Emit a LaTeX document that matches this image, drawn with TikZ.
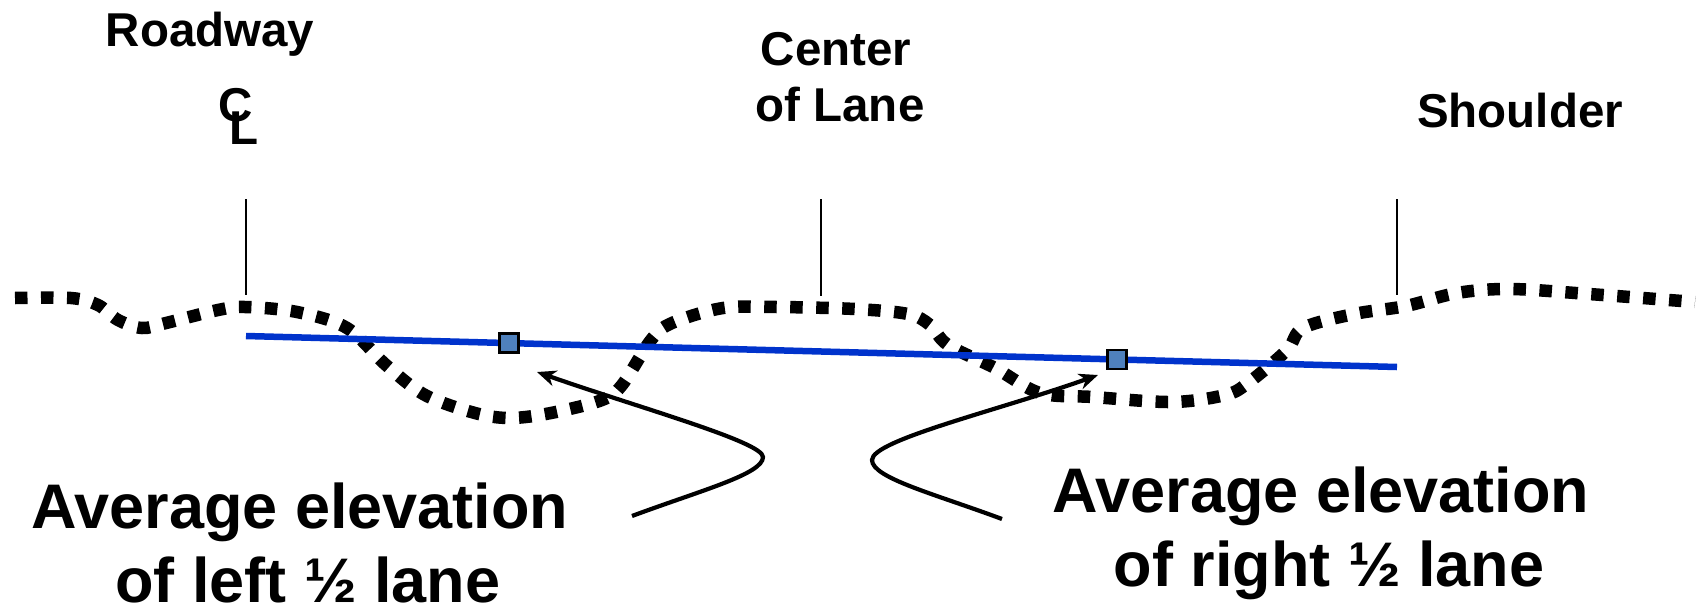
\documentclass[tikz,border=0pt]{standalone}
\usepackage{fontspec}
\setmainfont{Liberation Sans}
\usetikzlibrary{arrows.meta}
\definecolor{lineblue}{HTML}{0033CC}
\definecolor{markblue}{HTML}{4F81BD}
\newcommand{\smallfnt}{\fontsize{47.5}{56}\selectfont\bfseries}
\newcommand{\bigfnt}{\fontsize{63}{74}\selectfont\bfseries}
\begin{document}
\begin{tikzpicture}[x=1pt,y=-1pt,
  lbl/.style={font=\smallfnt, inner sep=0pt, anchor=base},
  big/.style={font=\bigfnt, inner sep=0pt, anchor=base},
  tickline/.style={line width=2.4pt},
  ground/.style={line width=12.5pt, dash pattern=on 12.5pt off 13.5pt},
  avgline/.style={draw=lineblue, line width=6.5pt},
  avgmark/.style={draw=black, line width=2.2pt, fill=markblue, minimum size=19pt, inner sep=0pt},
  pointer/.style={line width=4.2pt, -{Stealth[length=19pt,width=16pt,inset=6pt]}}
]
\useasboundingbox (0,0) rectangle (1701,611);

% labels
\node[lbl] (roadway) at (210,46) {Roadway};
\node[lbl, anchor=base west] (clC) at (218,121) {C};
\node[lbl, anchor=base west] (clL) at (229,144) {L};
\node[lbl] (center1) at (836,65) {Center};
\node[lbl] (center2) at (840,121) {of Lane};
\node[lbl] (shoulder) at (1520,127) {Shoulder};

% ticks
\coordinate (t1a) at (246,199); \coordinate (t1b) at (246,295);
\coordinate (t2a) at (821,199); \coordinate (t2b) at (821,296);
\coordinate (t3a) at (1397,199); \coordinate (t3b) at (1397,295);
\draw[tickline] (t1a) -- (t1b);
\draw[tickline] (t2a) -- (t2b);
\draw[tickline] (t3a) -- (t3b);

% road surface
\draw[ground] plot[smooth, tension=0.55] coordinates {
(15,298) (71,298) (98,305) (118,320) (142,328) (166,323) (218,310) (245,307)
(297,312) (347,328) (386,365) (425,395) (475,413) (510,418) (551,413) (602,400)
(622,385) (651,340) (672,323) (723,308) (777,307) (855,309) (908,314) (930,325)
(948,345) (995,368) (1040,393) (1093,397) (1172,402) (1225,395) (1248,383)
(1287,350) (1303,328) (1354,314) (1406,306) (1457,293) (1510,289) (1589,294) (1695,302)};

% average line
\coordinate (bl) at (246,336);
\coordinate (br) at (1397,367);
\draw[avgline] (bl) -- (br)
  node[avgmark, pos=0.2285] (sqL) {}
  node[avgmark, pos=0.7567] (sqR) {};

% pointers
\coordinate (lt) at (632,516); \coordinate (lr) at (763,457); \coordinate (la) at (537,372);
\draw[pointer] (lt) .. controls (702,490) and (763,474) .. (lr) .. controls (763,442) and (640,408) .. (la);
\coordinate (rt) at (1002,519); \coordinate (rl) at (872,460); \coordinate (ra) at (1098,375);
\draw[pointer] (rt) .. controls (935,494) and (872,478) .. (rl) .. controls (872,440) and (1000,410) .. (ra);

% captions
\node[big] (l1) at (300,528) {Average elevation};
\node[big] (l2) at (308,602) {of left ½ lane};
\node[big] (r1) at (1321,512) {Average elevation};
\node[big] (r2) at (1329,586) {of right ½ lane};
\end{tikzpicture}
\end{document}
